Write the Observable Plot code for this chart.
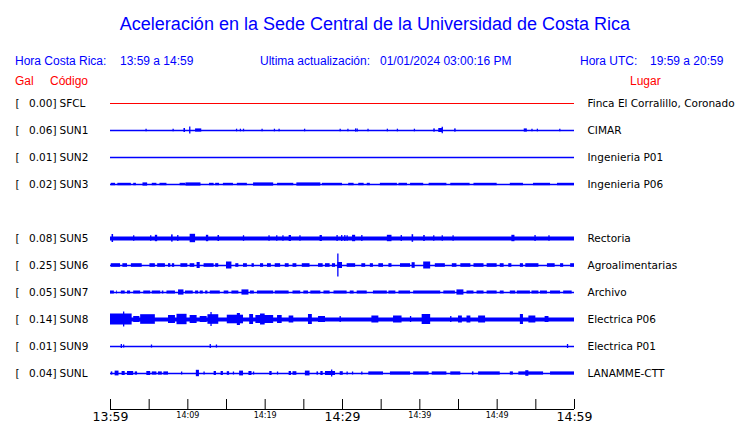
<!DOCTYPE html>
<html><head><meta charset="utf-8">
<script src="https://cdn.jsdelivr.net/npm/d3@7"></script>
<script src="https://cdn.jsdelivr.net/npm/@observablehq/plot@0.6"></script>
<style>
body{margin:0;background:#fff;}
#wrap{position:relative;width:740px;height:423px;font-family:"Liberation Sans",Arial,sans-serif;background:#fff;}
#head{position:relative;height:90px;}
.t{position:absolute;white-space:pre;font-size:12px;line-height:14px;color:#0000ff;}
.r{color:#ff0000;}
#title{position:absolute;left:0;width:750px;text-align:center;top:14px;font-size:18px;line-height:20px;color:#0000ff;}
</style></head><body>
<div id="wrap">
<div id="head">
  <div id="title">Aceleración en la Sede Central de la Universidad de Costa Rica</div>
  <div class="t" style="left:15px;top:54px">Hora Costa Rica:</div>
  <div class="t" style="left:120px;top:54px">13:59 a 14:59</div>
  <div class="t" style="left:260px;top:54px">Ultima actualización:</div>
  <div class="t" style="left:380px;top:54px">01/01/2024 03:00:16 PM</div>
  <div class="t" style="left:580px;top:54px">Hora UTC:</div>
  <div class="t" style="left:650px;top:54px">19:59 a 20:59</div>
  <div class="t r" style="left:15px;top:74px">Gal</div>
  <div class="t r" style="left:50px;top:74px">Código</div>
  <div class="t r" style="left:630px;top:74px">Lugar</div>
</div>
<div id="chart"></div>
</div>
<script>
// Stations (SUN4 has no data in this window)
const codes  = ["SFCL","SUN1","SUN2","SUN3","SUN4","SUN5","SUN6","SUN7","SUN8","SUN9","SUNL"];
const gal    = [0.00, 0.06, 0.01, 0.02, null, 0.08, 0.25, 0.05, 0.14, 0.01, 0.04];
const places = ["Finca El Corralillo, Coronado","CIMAR","Ingenieria P01","Ingenieria P06","",
                "Rectoria","Agroalimentarias","Archivo","Electrica P06","Electrica P01","LANAMME-CTT"];
// background noise level (counts) of each trace
const noise  = [0.5, 0.75, 0.75, 0.75, null, 1.9, 0.7, 0.75, 2.0, 0.75, 0.75];

// time axis (minutes after 13:59)
const timeDomain = [0, 60];
const tickMinutes = [0,5,10,15,20,25,30,35,40,45,50,55,60];
const tickLabels = ["13:59","14:09","14:19","14:29","14:39","14:49","14:59"];
const labelMinutes = [0,10,20,30,40,50,60];

// events: [t, amp] = spike, [t0, t1, amp] = burst ; t in minutes, amp in counts
const sfclEvents = [];
const sun1Events = [[4.6,1.3],[8.1,1.3],[9.5,9.7,2],[10.25,3.5],[11.0,11.8,1.6],[16.3,1.3],[16.8,1.3],[17.2,1.3],
  [19.6,1.3],[21.2,1.3],[21.8,1.3],[25.1,1.3],[29.7,1.3],[30.7,1.3],[31.7,1.6],[31.9,1.6],[33.3,1.3],[35.8,1.3],
  [37.1,1.3],[39.3,1.3],[41.8,42.0,1.6],[42.45,43.0,2],[42.9,3.2],[44.5,44.7,1.6],[53.5,53.9,1.6],[54.5,1.3],[55.2,1.3],[58.1,1.3]];
const sun2Events = [];
const sun3Events = [[0.1,0.65,1.2],[0.95,2.7,1.2],[3.0,3.35,1.2],[4.2,4.8,1.6],[5.4,6.0,1.2],[6.4,7.3,1.2],[9.0,9.7,1.2],
  [9.75,11.7,1.6],[12.8,13.4,1.2],[13.6,14.1,1.2],[14.6,15.9,1.2],[16.4,17.7,1.2],[18.5,21.1,1.6],[21.6,23.7,1.2],
  [24.1,27.2,1.6],[27.4,30.0,1.2],[30.8,31.5,1.2],[32.1,32.8,1.2],[33.2,33.6,1.2],[34.9,37.1,1.2],[37.3,38.4,1.2],
  [38.8,40.5,1.2],[41.2,43.5,1.2],[44.0,46.5,1.2],[47.0,50.0,1.2],[51.7,53.4,1.2],[54.7,56.9,1.2],[57.8,60,1.2]];
const sun5Events = [[0.2,0.4,4],[3.0,2.8],[5.2,2.8],[5.8,6.1,3.2],[7.9,8.1,3.6],[8.7,3],[10.3,11.0,4.2],[12.4,12.7,3.2],
  [13.9,14.1,3],[17.2,2.8],[20.5,2.8],[21.5,2.8],[22.3,2.8],[23.1,23.4,3],[24.5,2.8],[27.1,27.4,3],[29.3,3],[29.9,3],
  [30.3,3],[30.6,2.8],[31.3,31.7,3.2],[32.5,3],[35.8,36.4,3.2],[37.6,3],[39.0,39.2,3.8],[40.5,40.7,3],[41.8,2.8],
  [42.9,2.8],[44.3,2.8],[51.9,52.3,3.2],[54.9,3],[56.7,2.8]];
const sun6Events = [[0.1,1.3,1.8],[1.6,2.2,1.8],[2.7,4.1,1.8],[5.1,5.8,1.8],[6.1,7.1,1.8],[7.5,7.8,1.8],[8.0,8.3,1.8],
  [9.1,10.0,1.8],[10.3,10.9,1.8],[11.2,11.6,3],[12.1,13.4,1.8],[13.6,14.0,1.8],[15.0,15.7,3.5],[16.2,16.6,1.8],
  [17.2,17.7,1.8],[18.3,18.6,1.8],[19.4,19.8,1.8],[20.3,20.8,1.8],[21.3,22.0,1.8],[22.6,23.1,1.8],[23.6,24.1,1.8],
  [24.8,25.8,1.8],[26.9,27.5,1.8],[27.8,28.4,1.8],[28.7,29.1,1.8],[29.4,30.0,3],[29.4,11.5],[30.6,31.7,1.8],
  [32.5,33.0,1.8],[33.6,34.0,1.8],[34.7,35.3,1.8],[36.0,36.4,1.8],[37.5,38.8,1.8],[39.0,39.4,2.8],[40.5,41.4,3.5],
  [42.0,43.3,1.8],[44.2,44.8,1.8],[45.3,46.6,1.8],[47.0,48.3,1.8],[48.7,50.0,1.8],[50.4,50.9,1.8],[51.5,51.9,1.8],
  [53.0,53.4,1.8],[53.7,55.4,1.8],[56.5,57.5,1.8],[58.2,58.6,1.8],[59.5,60,1.8]];
const sun7Events = [[0.0,0.5,1.5],[0.8,0.9,1.5],[1.4,1.9,1.5],[2.2,2.6,1.5],[3.0,3.9,1.5],[4.3,5.2,1.5],[5.4,6.5,1.5],
  [6.7,6.9,1.5],[7.3,8.4,1.5],[8.8,9.5,2.6],[9.7,10.7,1.5],[11.0,11.4,1.5],[11.6,12.0,1.5],[12.3,12.6,1.5],[12.9,14.2,1.5],
  [14.7,15.3,1.5],[15.7,16.6,1.5],[17.0,17.9,2.6],[18.1,18.6,1.5],[19.0,21.1,1.5],[21.3,23.1,1.5],[23.6,24.6,1.5],
  [25.0,25.6,1.5],[25.9,27.2,1.5],[27.6,28.4,1.5],[28.9,30.6,1.5],[31.0,31.5,1.5],[31.9,33.2,1.5],[34.0,35.8,1.5],
  [36.0,36.9,1.5],[37.3,38.8,1.5],[39.2,42.7,1.5],[43.1,44.6,1.5],[44.8,45.7,2.6],[46.1,47.0,1.5],[47.4,48.3,1.5],
  [48.7,50.0,1.5],[50.4,50.9,1.5],[51.7,52.4,1.5],[52.6,54.3,1.5],[54.5,55.4,1.5],[55.6,56.5,1.5],[56.9,58.2,1.5],[58.6,59.7,1.5]];
const sun8Events = [[0,2.8,5.5],[1.7,7.5],[3.0,3.8,3],[3.9,5.8,4.8],[7.5,8.4,4],[8.6,9.9,5.2],[10.3,11.2,4],[11.6,12.5,3],
  [12.6,14.0,4.8],[13.0,7],[15.1,17.2,4.3],[16.4,16.8,6],[18.0,18.5,5],[18.8,21.1,4],[19.4,20.0,5.5],[21.6,22.2,4],
  [23.1,23.7,3.5],[25.6,26.1,5],[26.9,27.8,3],[29.7,3],[33.8,34.7,3.5],[36.6,37.7,3.5],[38.8,3],[40.3,41.4,5],[44.0,3],
  [45.0,45.5,3.5],[46.1,46.6,3.5],[47.6,48.5,3.5],[53.0,53.4,5],[54.1,55.0,3.5],[56.2,56.7,3]];
const sun9Events = [[1.4,2],[1.7,1.5],[5.3,1.5],[12.9,2],[13.7,1.5],[59.1,2]];
const sunlEvents = [[0.1,0.3,1.6],[0.6,1.1,2.4],[1.5,1.9,2],[2.2,3.0,2],[3.2,3.5,1.6],[4.7,5.2,2],[5.4,6.0,1.6],
  [6.2,6.7,1.6],[6.9,7.5,1.6],[9.2,1.5],[11.1,11.5,3.2],[12.1,1.5],[13.4,13.7,2],[14.3,14.6,2],[15.1,15.4,1.8],[15.9,1.5],
  [16.7,17.2,2.4],[17.9,18.3,2],[18.5,1.5],[20.6,20.9,2],[21.6,1.5],[23.1,23.4,2],[23.6,24.1,1.8],[25.2,25.8,2.4],
  [26.7,26.9,1.6],[27.2,27.5,2],[27.8,29.1,2],[28.6,3.5],[29.7,30.1,1.8],[30.6,1.5],[31.3,1.5],[32.5,1.5],
  [33.4,35.3,1.6],[36.2,38.8,1.6],[39.2,41.2,1.6],[41.6,43.5,1.6],[44.0,45.3,1.6],[46.8,47.0,1.6],[47.6,50.4,1.6],
  [51.7,52.1,1.6],[52.8,56.0,1.6],[53.7,54.1,2.8],[56.9,60,1.6]];

const eventsByCode = {SFCL:sfclEvents,SUN1:sun1Events,SUN2:sun2Events,SUN3:sun3Events,SUN5:sun5Events,
  SUN6:sun6Events,SUN7:sun7Events,SUN8:sun8Events,SUN9:sun9Events,SUNL:sunlEvents};

// ---- build tables ----
const K = 27;                 // counts per row spacing (1 count = 1 px here)
const AXIS_ROW = 34/3;        // row position of the time axis
const BLUE = "#0000ff", RED = "#ff0000";
const stations = codes.map((c,i)=>({code:c,row:i,gal:gal[i],place:places[i],noise:noise[i],
  color: c==="SFCL"?RED:BLUE})).filter(d=>d.gal!=null);
const bursts = [], spikes = [];
for (const s of stations) {
  for (const e of eventsByCode[s.code] || []) {
    if (e.length === 2) spikes.push({row:s.row,color:s.color,t:e[0],amp:e[1]});
    else bursts.push({row:s.row,color:s.color,t0:e[0],t1:e[1],amp:e[2]});
  }
}
const labels = labelMinutes.map((m,i)=>({t:m,label:tickLabels[i],big:i%3===0}));
const pxPerCount = (319 - 13) / AXIS_ROW / K;

const chart = Plot.plot({
  width: 740, height: 333,
  marginLeft: 110, marginRight: 166, marginTop: 13, marginBottom: 14,
  style: {fontFamily: "DejaVu Sans", background: "white", overflow: "visible"},
  x: {domain: timeDomain, axis: null},
  y: {domain: [0, AXIS_ROW], range: [13, 319], axis: null},
  color: {type: "identity"},
  marks: [
    Plot.ruleY(stations, {y: "row", x1: () => timeDomain[0], x2: () => timeDomain[1],
      stroke: "color", strokeWidth: d => 2 * d.noise * pxPerCount}),
    Plot.rect(bursts, {x1: "t0", x2: "t1", y1: d => d.row - d.amp/K, y2: d => d.row + d.amp/K, fill: "color"}),
    Plot.ruleX(spikes, {x: "t", y1: d => d.row - d.amp/K, y2: d => d.row + d.amp/K, stroke: "color", strokeWidth: 1.3}),
    Plot.text(stations, {y: "row", text: () => "[", frameAnchor: "left", dx: -95, textAnchor: "start", fontSize: 10.5, fill: "black"}),
    Plot.text(stations, {y: "row", text: d => d.gal.toFixed(2) + "]", frameAnchor: "left", dx: -54, textAnchor: "end", fontSize: 10.5, fill: "black"}),
    Plot.text(stations, {y: "row", text: "code", frameAnchor: "left", dx: -51, textAnchor: "start", fontSize: 10.5, fill: "black"}),
    Plot.text(stations, {y: "row", text: "place", frameAnchor: "right", dx: 13, textAnchor: "start", fontSize: 10.5, fill: "black"}),
    // time axis
    Plot.ruleY([AXIS_ROW], {x1: timeDomain[0], x2: timeDomain[1], stroke: "black"}),
    Plot.ruleX(tickMinutes, {x: d => d, y1: () => AXIS_ROW - 10/K, y2: () => AXIS_ROW, stroke: "black"}),
    Plot.text(labels.filter(d => d.big), {x: "t", y: () => AXIS_ROW, text: "label", dy: 7, fontSize: 12.5, fill: "black"}),
    Plot.text(labels.filter(d => !d.big), {x: "t", y: () => AXIS_ROW, text: "label", dy: 6, fontSize: 8, fill: "black"})
  ]
});
document.getElementById("chart").appendChild(chart);
</script>
</body></html>
